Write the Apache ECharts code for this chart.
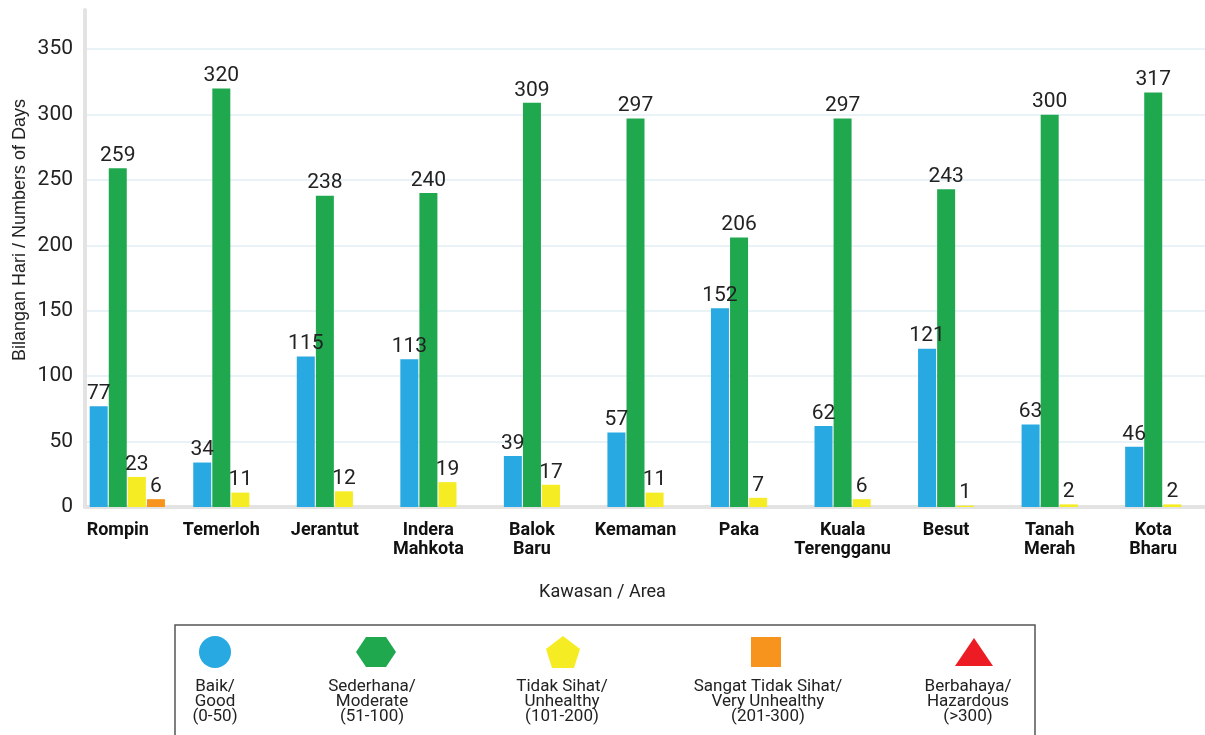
<!DOCTYPE html>
<html>
<head>
<meta charset="utf-8">
<script src="https://cdn.jsdelivr.net/npm/echarts@6/dist/echarts.min.js"></script>
<style>
  html, body { margin: 0; padding: 0; background: #fff; }
  #chart { width: 1205px; height: 735px; }
</style>
</head>
<body>
<div id="chart"></div>
<script>
// data
const areas = ['Rompin', 'Temerloh', 'Jerantut', 'Indera\nMahkota', 'Balok\nBaru', 'Kemaman',
  'Paka', 'Kuala\nTerengganu', 'Besut', 'Tanah\nMerah', 'Kota\nBharu'];
const baik = [77, 34, 115, 113, 39, 57, 152, 62, 121, 63, 46];
const sederhana = [259, 320, 238, 240, 309, 297, 206, 297, 243, 300, 317];
const tidakSihat = [23, 11, 12, 19, 17, 11, 7, 6, 1, 2, 2];
const sangatTidakSihat = [6, null, null, null, null, null, null, null, null, null, null];
const yTicks = [0, 50, 100, 150, 200, 250, 300, 350];

const legendItems = [
  { text: 'Baik/\nGood\n(0-50)', color: '#29a9e1' },
  { text: 'Sederhana/\nModerate\n(51-100)', color: '#20a84f' },
  { text: 'Tidak Sihat/\nUnhealthy\n(101-200)', color: '#f5ec23' },
  { text: 'Sangat Tidak Sihat/\nVery Unhealthy\n(201-300)', color: '#f7941d' },
  { text: 'Berbahaya/\nHazardous\n(>300)', color: '#ed1c24' }
];

const FONT = 'Roboto, sans-serif';

const chart = echarts.init(document.getElementById('chart'));

function barSeries(name, data, color) {
  return {
    name: name,
    type: 'bar',
    xAxisIndex: 0,
    yAxisIndex: 0,
    data: data,
    barWidth: 18,
    barGap: '6%',
    itemStyle: { color: color },
    label: {
      show: true,
      position: 'top',
      distance: 2,
      color: '#222',
      fontSize: 21,
      fontFamily: FONT
    }
  };
}

// legend drawn as a box with shapes and text below each icon
const legendX = [215, 372, 562, 768, 968];
const legendGraphics = [
  { type: 'rect', shape: { x: 175, y: 625, width: 860, height: 130 },
    style: { fill: 'none', stroke: '#555', lineWidth: 1.5 } },
  { type: 'circle', shape: { cx: 215, cy: 652, r: 16 }, style: { fill: legendItems[0].color } },
  { type: 'polygon', shape: { points: [[356, 652], [366, 637], [386, 637], [396, 652], [386, 667], [366, 667]] },
    style: { fill: legendItems[1].color } },
  { type: 'polygon', shape: { points: [[563, 636], [580, 649], [574, 668], [552, 668], [546, 649]] },
    style: { fill: legendItems[2].color } },
  { type: 'rect', shape: { x: 751, y: 637, width: 30, height: 30 }, style: { fill: legendItems[3].color } },
  { type: 'polygon', shape: { points: [[974, 638], [993, 666], [955, 666]] },
    style: { fill: legendItems[4].color } }
];
legendItems.forEach(function (item, i) {
  legendGraphics.push({
    type: 'text',
    style: {
      text: item.text, x: legendX[i], y: 679,
      align: 'center', verticalAlign: 'top',
      font: '17px ' + FONT, lineHeight: 15, fill: '#222'
    }
  });
});
legendGraphics.push({
  type: 'text', rotation: Math.PI / 2, x: 20, y: 230,
  style: { text: 'Bilangan Hari / Numbers of Days', align: 'center', verticalAlign: 'middle',
    font: '18px "Liberation Sans", Arial, sans-serif', fill: '#222' }
});

const option = {
  animation: false,
  title: {
    text: 'Kawasan / Area',
    left: 'center',
    top: 578,
    textStyle: { fontSize: 18, fontWeight: 'normal', color: '#222', fontFamily: FONT }
  },
  grid: [
    { left: 66, right: 0, top: 10, bottom: 228 },
    { left: 85, right: 0, top: 10, bottom: 228 }
  ],
  xAxis: [
    {
      type: 'category', gridIndex: 0, data: areas,
      axisLine: { show: false }, axisTick: { show: false },
      axisLabel: { interval: 0, margin: 14, color: '#111', fontSize: 18, fontWeight: 'bold',
        fontFamily: FONT, lineHeight: 19 }
    },
    {
      type: 'value', gridIndex: 1, min: 0, max: 1,
      axisLine: { show: true, lineStyle: { color: '#e3e3e3', width: 4 } },
      axisTick: { show: false }, axisLabel: { show: false }, splitLine: { show: false }
    }
  ],
  yAxis: [
    { type: 'value', gridIndex: 0, min: 0, max: 380, show: false, splitLine: { show: false } },
    {
      type: 'value', gridIndex: 1, min: 0, max: 380, interval: 50,
      axisLine: { show: true, lineStyle: { color: '#e3e3e3', width: 4 } },
      axisTick: { show: false },
      axisLabel: {
        margin: 12, color: '#222', fontSize: 21, fontFamily: FONT, showMaxLabel: false,
        formatter: function (v) { return yTicks.indexOf(v) >= 0 ? String(v) : ''; }
      },
      splitLine: { lineStyle: { color: ['#e9f2f6', '#e9f2f6', '#e9f2f6', '#e9f2f6', '#e9f2f6',
        '#e9f2f6', '#e9f2f6', '#e9f2f6', 'rgba(0,0,0,0)'], width: 2 } }
    }
  ],
  graphic: legendGraphics,
  series: [
    // empty spacer slot so the green bar sits at the category centre
    { name: 'spacer', type: 'bar', xAxisIndex: 0, yAxisIndex: 0, data: [], barWidth: 18, barGap: '6%' },
    barSeries('Baik', baik, '#29a9e1'),
    barSeries('Sederhana', sederhana, '#20a84f'),
    barSeries('Tidak Sihat', tidakSihat, '#f5ec23'),
    barSeries('Sangat Tidak Sihat', sangatTidakSihat, '#f7941d')
  ]
};
chart.setOption(option);
</script>
</body>
</html>
